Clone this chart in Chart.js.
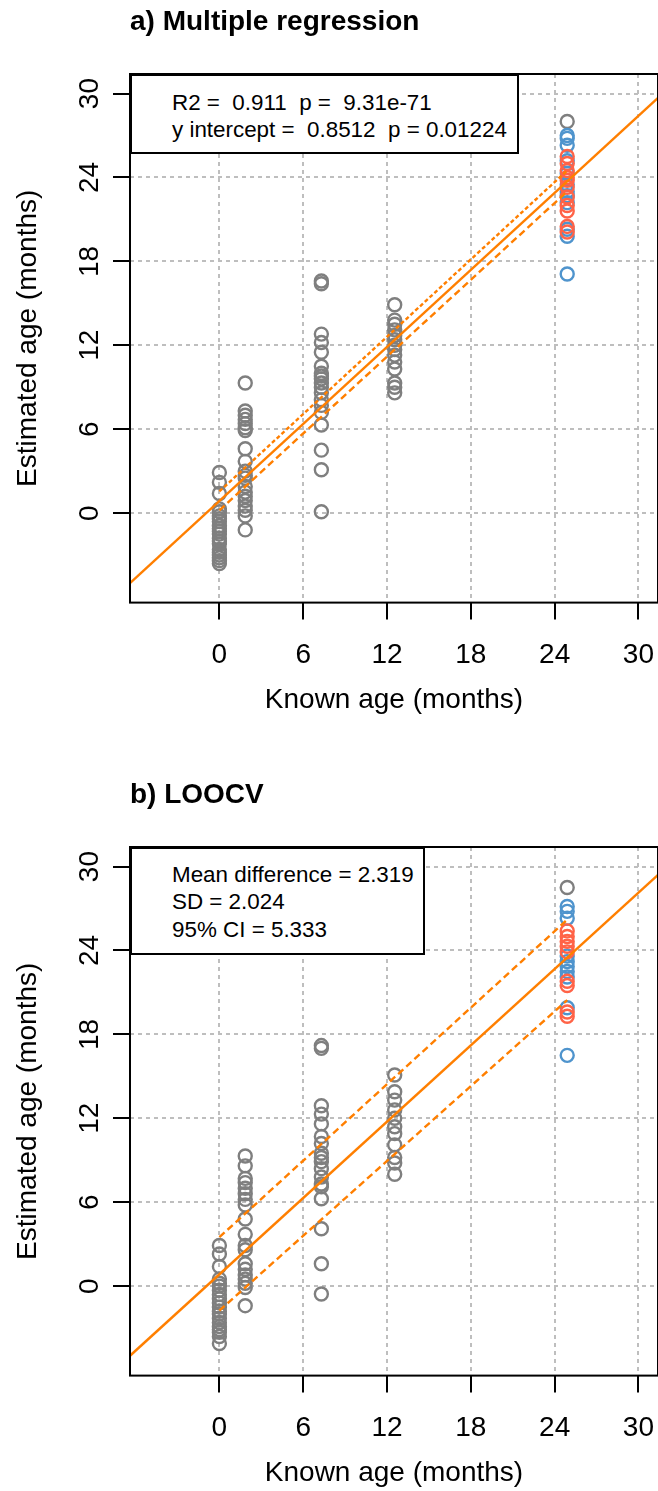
<!DOCTYPE html>
<html><head><meta charset="utf-8">
<script src="https://cdn.jsdelivr.net/npm/chart.js@4.4.1/dist/chart.umd.min.js"></script>
<style>
html,body{margin:0;padding:0;background:#fff;}
body{width:658px;height:1491px;overflow:hidden;position:relative;font-family:"Liberation Sans",Arial,Helvetica,sans-serif;}
.panel{position:absolute;left:0;width:658px;height:718px;}
.panel canvas{position:absolute;left:0;top:0;}
.note{position:absolute;left:130px;background:#fff;border:2px solid #000;box-sizing:border-box;font-size:22.4px;line-height:27.5px;white-space:pre;color:#000;padding-left:40px;}
</style></head><body>
<div class="panel" style="top:0px"><canvas id="ca" width="658" height="718"></canvas><div class="note" id="na" style="top:74px;width:389px;height:80px;padding-top:12.5px"></div></div>
<div class="panel" style="top:773px"><canvas id="cb" width="658" height="718"></canvas><div class="note" id="nb" style="top:74px;width:295px;height:108px;padding-top:11.5px"></div></div>
<script>
// ---------- data ----------
const knownAges = [0, 1.85, 7.3, 12.55, 24.9];
const axisTicks = [0, 6, 12, 18, 24, 30];
const axisMin = -6.4, axisMax = 31.4;

// panel a) Multiple regression
const a_age0  = [2.9, 2.2, 1.4, 0.3, 0.1, -0.2, -0.4, -0.6, -0.9, -1.1, -1.3, -1.5, -1.8, -2.0, -2.2, -2.6, -2.8, -3.0, -3.2, -3.4, -3.6];
const a_age2  = [9.3, 7.3, 7.0, 6.7, 6.4, 6.1, 5.9, 4.6, 3.7, 3.0, 2.7, 2.5, 1.9, 1.5, 1.2, 0.9, 0.5, 0.2, -0.2, -1.2];
const a_age7  = [16.6, 16.4, 12.8, 12.2, 11.5, 10.5, 10.0, 9.8, 9.6, 9.3, 9.0, 8.6, 8.1, 7.7, 7.2, 6.3, 4.5, 3.1, 0.1];
const a_age12 = [14.9, 13.8, 13.5, 13.1, 12.7, 12.4, 12.0, 11.7, 11.3, 10.8, 10.3, 9.3, 9.0, 8.6];
const a_age25grey = [28.0];
const a_age25blue = [27.0, 26.8, 26.3, 25.2, 24.3, 23.5, 23.0, 22.7, 22.2, 20.3, 19.8, 17.1];
const a_age25red  = [25.5, 25.0, 24.5, 24.0, 23.8, 23.3, 22.6, 22.0, 21.6, 20.5, 20.1];
const fitX = [-6.4, 31.4];
const a_fitY = [-5.0, 29.7];
const bandX = [0, 24.9];
const a_upperY = [1.55, 24.5];
const a_lowerY = [0.2, 23.0];
const a_note = ["R2 =  0.911  p =  9.31e-71", "y intercept =  0.8512  p = 0.01224"];

// panel b) LOOCV
const b_age0  = [2.9, 2.3, 1.4, 0.5, 0.2, 0.0, -0.3, -0.6, -0.9, -1.2, -1.5, -1.8, -2.0, -2.3, -2.6, -2.9, -3.1, -3.3, -3.6, -4.1];
const b_age2  = [9.3, 8.6, 7.7, 7.4, 7.0, 6.6, 6.2, 5.8, 4.8, 3.7, 2.9, 2.6, 1.6, 1.2, 0.8, 0.5, 0.2, -0.1, -1.4];
const b_age7  = [17.2, 17.0, 12.9, 12.3, 11.6, 10.7, 10.2, 9.5, 9.2, 8.9, 8.4, 7.8, 7.3, 7.1, 6.25, 4.1, 1.6, -0.56];
const b_age12 = [15.1, 13.9, 13.3, 12.6, 12.0, 11.4, 10.9, 10.1, 9.2, 8.8, 8.0];
const b_age25grey = [28.5];
const b_age25blue = [27.15, 26.8, 26.3, 23.6, 23.2, 22.85, 22.5, 22.1, 19.9, 16.5];
const b_age25red  = [25.4, 25.0, 24.65, 24.3, 23.9, 21.8, 21.5, 19.6, 19.3];
const b_fitY = [-4.98, 29.4];
const b_upperY = [3.5, 26.2];
const b_lowerY = [-1.75, 20.45];
const b_note = ["Mean difference = 2.319", "SD = 2.024", "95% CI = 5.333"];

// ---------- styles ----------
const FONT = '"Liberation Sans", Arial, Helvetica, sans-serif';
const ORANGE = '#FF7F00', GREY = '#7F7F7F', BLUE = '#4F94CD', RED = '#FF6347';

function pts(x, ys) { return ys.map(y => ({x: x, y: y})); }
function line(xs, ys) { return xs.map((x, i) => ({x: x, y: ys[i]})); }

const boxPlugin = {
  id: 'plotBox',
  afterDraw(chart) {
    const a = chart.chartArea, ctx = chart.ctx;
    ctx.save();
    ctx.strokeStyle = '#000';
    ctx.lineWidth = 2;
    ctx.strokeRect(a.left, a.top, a.right - a.left, a.bottom - a.top);
    ctx.restore();
  }
};

function scatterSet(data, color) {
  return {type: 'scatter', data: data, showLine: false, pointStyle: 'circle', pointRadius: 6.5,
    pointBorderWidth: 2.4, borderColor: color, backgroundColor: 'rgba(0,0,0,0)', pointBackgroundColor: 'rgba(0,0,0,0)',
    pointBorderColor: color};
}
function lineSet(data, dash, width) {
  return {type: 'line', data: data, borderColor: ORANGE, borderWidth: width || 2, borderDash: dash || [],
    pointRadius: 0, fill: false, tension: 0};
}

function axis(isX) {
  return {
    type: 'linear', min: axisMin, max: axisMax,
    afterBuildTicks: s => { s.ticks = axisTicks.map(v => ({value: v})); },
    afterFit: s => {
      if (isX) { s.height = 115.4; s.paddingLeft = 0; s.paddingRight = 0; }
      else { s.width = 130; s.paddingTop = 0; s.paddingBottom = 0; }
    },
    grid: {color: '#BEBEBE', lineWidth: 2, drawTicks: true, tickLength: 17, tickColor: '#000', tickWidth: 2, tickBorderDash: []},
    border: {display: false, dash: [4, 4]},
    ticks: isX
      ? {color: '#000', font: {family: FONT, size: 28}, padding: 18.6, maxRotation: 0, minRotation: 0}
      : {color: '#000', font: {family: FONT, size: 28}, padding: 7.4, minRotation: 90, maxRotation: 90, crossAlign: 'center'},
    title: isX
      ? {display: true, text: 'Known age (months)', color: '#000', font: {family: FONT, size: 28}, padding: {top: 0, bottom: 0.7}}
      : {display: true, text: 'Estimated age (months)', color: '#000', font: {family: FONT, size: 28}, padding: {top: 11.2, bottom: 0}}
  };
}

function makePanel(id, titleText, g0, g2, g7, g12, g25grey, g25blue, g25red, fitY, upY, loY, upDash, loDash) {
  new Chart(document.getElementById(id), {
    data: {datasets: [
      lineSet(line(fitX, fitY), [], 2.4),
      lineSet(line(bandX, upY), upDash, 2.4),
      lineSet(line(bandX, loY), loDash, 2.4),
      scatterSet(pts(knownAges[4], g25red), RED),
      scatterSet(pts(knownAges[4], g25blue), BLUE),
      scatterSet(pts(knownAges[4], g25grey), GREY),
      scatterSet(pts(knownAges[3], g12), GREY),
      scatterSet(pts(knownAges[2], g7), GREY),
      scatterSet(pts(knownAges[1], g2), GREY),
      scatterSet(pts(knownAges[0], g0), GREY)
    ]},
    options: {
      responsive: false, animation: false, devicePixelRatio: 1,
      layout: {autoPadding: false, padding: {top: 0, left: 0, right: 0, bottom: 0}},
      plugins: {
        legend: {display: false}, tooltip: {enabled: false},
        title: {display: true, text: titleText, align: 'start', fullSize: false, color: '#000',
          font: {family: FONT, size: 28, weight: 'bold', lineHeight: 1.2}, padding: {top: 5.2, bottom: 35.2}}
      },
      scales: {x: axis(true), y: axis(false)}
    },
    plugins: [boxPlugin]
  });
}

makePanel('ca', 'a) Multiple regression', a_age0, a_age2, a_age7, a_age12, a_age25grey, a_age25blue, a_age25red,
  a_fitY, a_upperY, a_lowerY, [4, 2.5], [7, 4]);
makePanel('cb', 'b) LOOCV', b_age0, b_age2, b_age7, b_age12, b_age25grey, b_age25blue, b_age25red,
  b_fitY, b_upperY, b_lowerY, [7, 4], [7, 4]);

document.getElementById('na').textContent = a_note.join('\n');
document.getElementById('nb').textContent = b_note.join('\n');
</script>
</body></html>
